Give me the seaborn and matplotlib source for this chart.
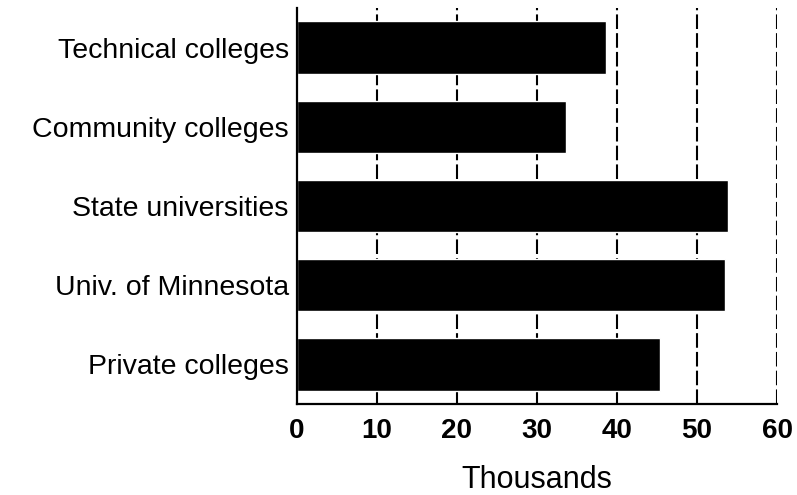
"""
Horizontal bar chart of enrollment (thousands) by Minnesota system.
"""
import matplotlib
matplotlib.use("Agg")
import matplotlib.pyplot as plt
import seaborn as sns
import pandas as pd

# Data
categories = ["Technical colleges", "Community colleges", "State universities",
              "Univ. of Minnesota", "Private colleges"]
values = [38.6, 33.6, 53.9, 53.5, 45.4]
x_ticks = [0, 10, 20, 30, 40, 50, 60]

df = pd.DataFrame({"system": categories, "thousands": values})

sns.set_style("white")
plt.rcParams["font.family"] = ["Liberation Sans", "DejaVu Sans"]
plt.rcParams["text.color"] = "black"
plt.rcParams["xtick.color"] = "black"
plt.rcParams["ytick.color"] = "black"
plt.rcParams["axes.labelcolor"] = "black"

fig = plt.figure(figsize=(7.97, 4.95), dpi=100)
ax = fig.add_axes([0.3726, 0.1838, 0.6024, 0.8])

sns.barplot(data=df, x="thousands", y="system", orient="h", color="black",
            width=0.66, saturation=1, ax=ax, zorder=2)

# dashed vertical grid lines
for t in x_ticks[1:]:
    ax.axvline(t, color="black", lw=1.5, linestyle=(0, (7, 2)), zorder=1)

ax.set_xlim(0, 60)
ax.set_xticks(x_ticks)
ax.set_xticklabels([str(t) for t in x_ticks], fontsize=20, fontweight="bold")
ax.tick_params(axis="x", length=0, pad=10)
ax.tick_params(axis="y", length=0, pad=6, labelsize=20.5)

ax.set_ylabel("")
ax.set_xlabel("Thousands", fontsize=22, labelpad=15)

for side in ["top", "right"]:
    ax.spines[side].set_visible(False)
for side in ["left", "bottom"]:
    ax.spines[side].set_color("black")
    ax.spines[side].set_linewidth(1.6)

fig.savefig("out.png", dpi=100)
plt.close(fig)
